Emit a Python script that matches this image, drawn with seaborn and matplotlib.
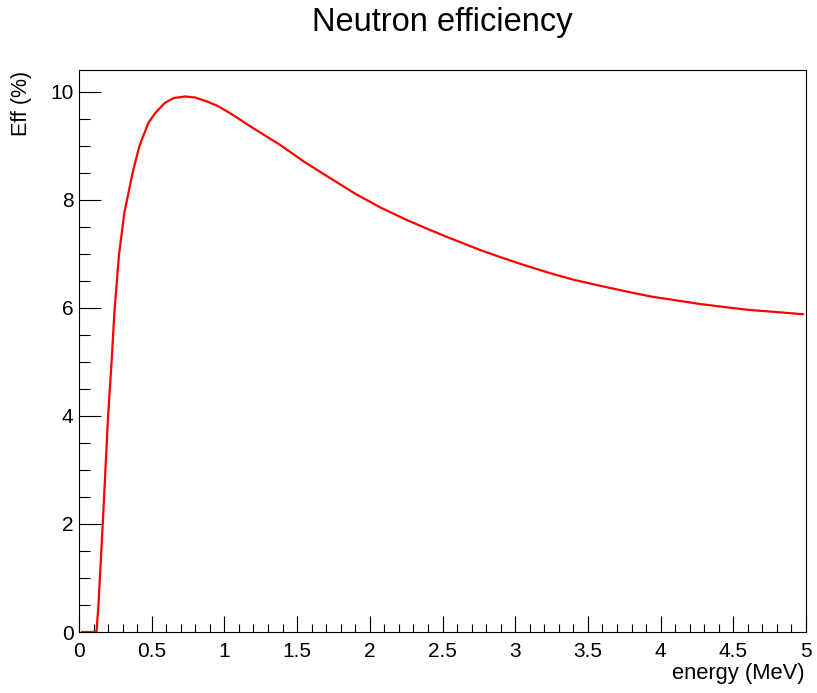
import numpy as np
import pandas as pd
import matplotlib
matplotlib.use("Agg")
import matplotlib.pyplot as plt
from matplotlib.ticker import MultipleLocator
import seaborn as sns

energy = [0.02, 0.12, 0.133, 0.163, 0.20, 0.225, 0.243, 0.275, 0.312, 0.369,
          0.415, 0.477, 0.523, 0.59, 0.65, 0.73, 0.80, 0.878, 0.95, 1.04,
          1.2, 1.38, 1.55, 1.727, 1.9, 2.07, 2.25, 2.414, 2.55, 2.758,
          2.895, 3.05, 3.24, 3.4, 3.58, 3.75, 3.93, 4.1, 4.27, 4.45,
          4.61, 4.8, 4.98]
eff = [0.0, 0.0, 0.46, 1.98, 3.99, 5.04, 5.9, 6.98, 7.76, 8.5,
       8.99, 9.42, 9.6, 9.79, 9.88, 9.91, 9.89, 9.82, 9.74, 9.6,
       9.32, 9.02, 8.7, 8.40, 8.11, 7.86, 7.63, 7.44, 7.29, 7.07,
       6.94, 6.80, 6.64, 6.52, 6.41, 6.31, 6.21, 6.14, 6.07, 6.01,
       5.96, 5.92, 5.88]

title = "Neutron efficiency"
xlabel = "energy (MeV)"
ylabel = "Eff (%)"
xtick_labels = ["0", "0.5", "1", "1.5", "2", "2.5", "3", "3.5", "4", "4.5", "5"]

sns.set_style("white")
plt.rcParams['font.family'] = ['Liberation Sans', 'DejaVu Sans']
plt.rcParams['text.color'] = 'black'
plt.rcParams['xtick.color'] = 'black'
plt.rcParams['ytick.color'] = 'black'
plt.rcParams['xtick.labelcolor'] = 'black'
plt.rcParams['ytick.labelcolor'] = 'black'

df = pd.DataFrame({"energy": energy, "eff": eff})

fig = plt.figure(figsize=(8.17, 6.93), dpi=100)
ax = fig.add_axes([79/817, 61/693, (806-79)/817, (632-70)/693])
sns.lineplot(data=df, x="energy", y="eff", ax=ax, color="#ff0000",
             linewidth=1.6, estimator=None, sort=False)

ax.set_xlim(0, 5)
ax.set_ylim(0, 10.4)
ax.set_xticks(np.arange(0, 5.01, 0.5))
ax.set_xticklabels(xtick_labels)
ax.xaxis.set_minor_locator(MultipleLocator(0.1))
ax.yaxis.set_major_locator(MultipleLocator(2))
ax.yaxis.set_minor_locator(MultipleLocator(0.5))

ax.tick_params(axis='x', which='major', direction='in', length=11.5, width=0.8,
               labelsize=15, pad=7, color='black', labelcolor='black',
               bottom=True, top=False)
ax.tick_params(axis='x', which='minor', direction='in', length=6, width=0.8,
               color='black', bottom=True, top=False)
ax.tick_params(axis='y', which='major', direction='in', length=15.8, width=0.8,
               labelsize=15, pad=4, color='black', labelcolor='black',
               left=True, right=False)
ax.tick_params(axis='y', which='minor', direction='in', length=8, width=0.8,
               color='black', left=True, right=False)

for s in ax.spines.values():
    s.set_color('black')
    s.set_linewidth(0.8)
    s.set_visible(True)

ax.set_xlabel("")
ax.set_ylabel("")
fig.text(805/817, 1 - 673/693, xlabel, ha='right', va='center', fontsize=15.8, color='black')
fig.text(22/817, 1 - 71/693, ylabel, ha='center', va='top', rotation=90, fontsize=15.5, color='black')
fig.text(442/817, 1 - 22/693, title, ha='center', va='center', fontsize=23.5, color='black')

fig.savefig("out.png", dpi=100)
